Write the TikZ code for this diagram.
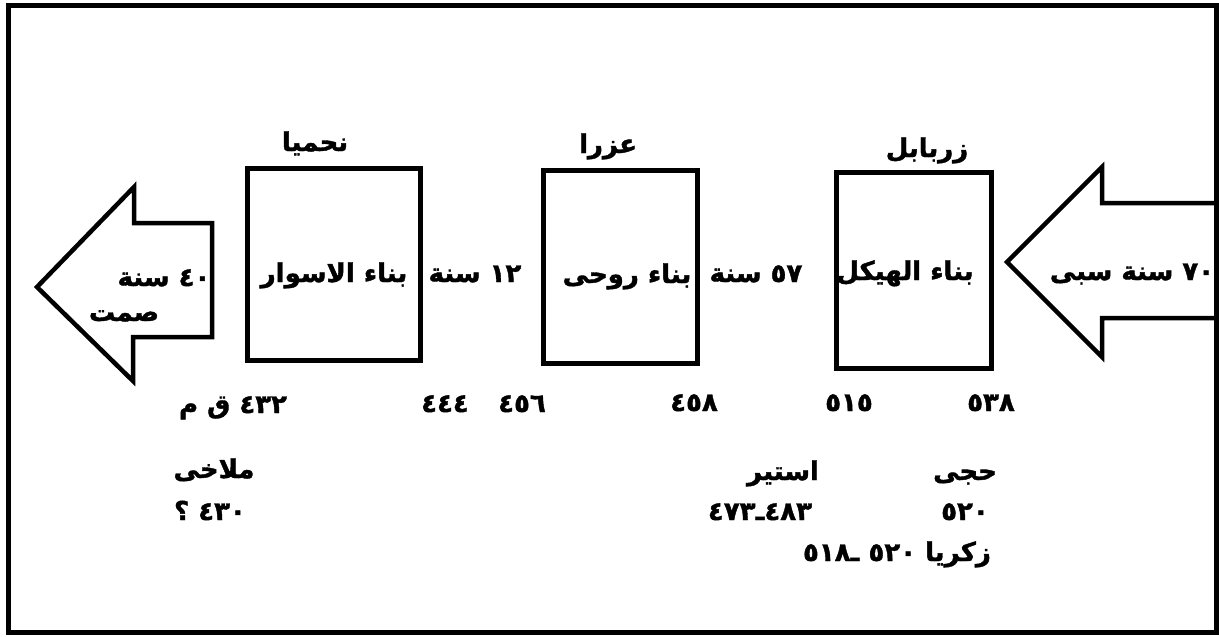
\documentclass[tikz,border=0pt]{standalone}
\usepackage{fontspec}
\newfontfamily\arabicfont[Script=Arabic, BoldFeatures={FakeBold=1.5}]{DejaVu Sans}
\TeXXeTstate=1
\usetikzlibrary{positioning}
\def\rtl#1{\arabicfont\bfseries\beginR #1\endR}
\tikzset{
  period/.style={draw, line width=5pt, inner sep=0pt},
  txt/.style={anchor=base, inner sep=0pt, font=\fontsize{26}{30}\selectfont},
}

\begin{document}
\begin{tikzpicture}[x=1pt, y=-1pt]
  \useasboundingbox (0,0) rectangle (1219,637);
  \draw[line width=5pt] (8,5.5) rectangle (1216,632);

  % arrows
  \draw[line width=4.5pt] (212,223) -- (134,223) -- (134,187) -- (37,287)
    -- (133,381) -- (133,337) -- (212,337) -- cycle;
  \draw[line width=4.5pt] (1216,203) -- (1102,203) -- (1102,167) -- (1007,262)
    -- (1102,357) -- (1102,318) -- (1216,318);

  % boxes
  \node[period, minimum width=173pt, minimum height=192pt] (walls) at (333.5,264) {};
  \node[period, minimum width=154pt, minimum height=193pt] (spirit) at (620,266.5) {};
  \node[period, minimum width=155pt, minimum height=196pt] (temple) at (913.5,270) {};

  % names above
  \node[txt] (nehemiah) at (315,151) {\rtl{نحميا}};
  \node[txt] (ezra) at (608,153) {\rtl{عزرا}};
  \node[txt] (zerub) at (927,157) {\rtl{زربابل}};

  % middle row
  \node[txt] (silence) at (164,286) {\rtl{٤٠ سنة}};
  \node[txt] (silence2) at (124,321) {\rtl{صمت}};
  \node[txt] (wallstxt) at (334,282) {\rtl{بناء الاسوار}};
  \node[txt] (gap12) at (475,282) {\rtl{١٢ سنة}};
  \node[txt] (spirittxt) at (627,283) {\rtl{بناء روحى}};
  \node[txt] (gap57) at (756,282) {\rtl{٥٧ سنة}};
  \node[txt] (templetxt) at (905,280) {\rtl{بناء الهيكل}};
  \node[txt] (exile) at (1132,280) {\rtl{٧٠ سنة سبى}};

  % years
  \node[txt] (y432) at (233,413) {\rtl{٤٣٢ ق م}};
  \node[txt] (y444) at (445,412) {\rtl{٤٤٤}};
  \node[txt] (y456) at (522,412) {\rtl{٤٥٦}};
  \node[txt] (y458) at (694,411) {\rtl{٤٥٨}};
  \node[txt] (y515) at (849,411) {\rtl{٥١٥}};
  \node[txt] (y538) at (991,411) {\rtl{٥٣٨}};

  % prophets
  \node[txt] (malachi) at (214,478) {\rtl{ملاخى}};
  \node[txt] (malachiy) at (210,520) {\rtl{٤٣٠ ؟}};
  \node[txt] (esther) at (783,480) {\rtl{استير}};
  \node[txt] (esthery) at (760,520) {\rtl{\hbox{٤٨٣}\hbox{ـ}\hbox{٤٧٣}}};
  \node[txt] (haggai) at (965,480) {\rtl{حجى}};
  \node[txt] (haggaiy) at (965,520) {\rtl{٥٢٠}};
  \node[txt] (zech) at (897,561) {\rtl{زكريا ٥٢٠ \hbox{ـ}\hbox{٥١٨}}};
\end{tikzpicture}
\end{document}
